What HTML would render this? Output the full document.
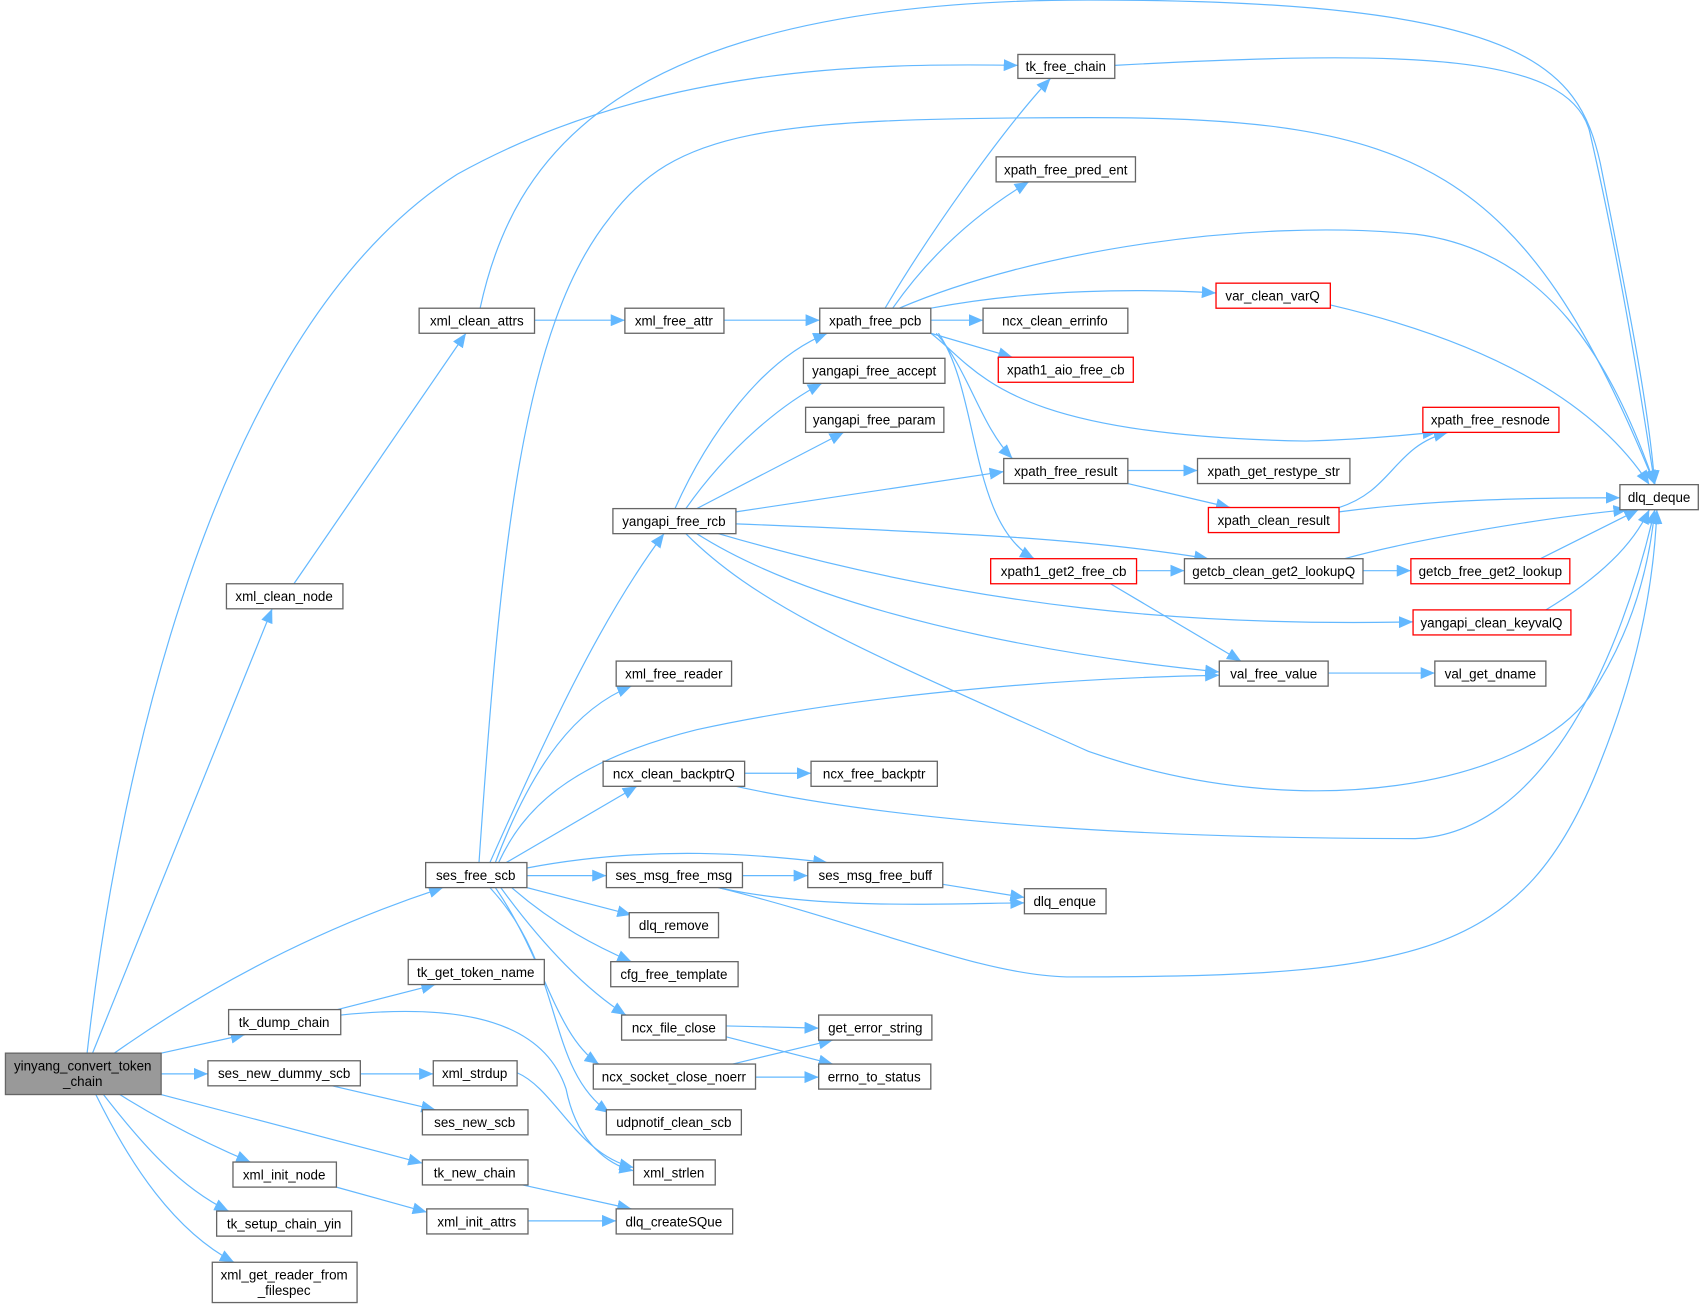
<!DOCTYPE html>
<html><head><meta charset="utf-8"><style>
html,body{margin:0;padding:0;background:#fff;}
svg{display:block;}
text{font-family:"Liberation Sans",Arial,sans-serif;font-size:12.3px;fill:#000;text-anchor:middle;}
.b{fill:#fff;stroke:#666;stroke-width:1.2;}
.r{fill:#fff;stroke:#f00;stroke-width:1.2;}
.g{fill:#999;stroke:#666;stroke-width:1.2;}
path.e{fill:none;stroke:#63b8ff;stroke-width:1.1;marker-end:url(#a);}
</style></head><body>
<svg width="1707" height="1308" viewBox="0 0 1568 1201" preserveAspectRatio="none">
<defs><marker id="a" markerUnits="userSpaceOnUse" markerWidth="14" markerHeight="11" refX="13" refY="5.5" orient="auto"><path d="M0,0 L13,5.5 L0,11 z" fill="#63b8ff"/></marker></defs>
<g>
<path class="e" d="M80,967 C110,700 200,300 420,160 C600,60 800,58 935,60"/>
<path class="e" d="M85,967 L250,559"/>
<path class="e" d="M105,967 C200,900 300,850 407,815"/>
<path class="e" d="M148,967 L225,950"/>
<path class="e" d="M148,986 L191,986"/>
<path class="e" d="M148,1005 L388,1068"/>
<path class="e" d="M110,1005 C150,1030 190,1050 230,1067"/>
<path class="e" d="M95,1005 C130,1050 165,1090 210,1112"/>
<path class="e" d="M88,1005 C120,1070 160,1130 215,1159"/>
<path class="e" d="M270,536 L428,306"/>
<path class="e" d="M491,294 L574,294"/>
<path class="e" d="M441,283 C470,150 560,0 1000,0 C1400,0 1450,60 1470,150 C1500,300 1515,380 1520,445"/>
<path class="e" d="M665,294 L753,294"/>
<path class="e" d="M440,792 C460,500 480,300 560,200 C620,120 700,108 1000,108 C1300,108 1400,150 1520,445"/>
<path class="e" d="M1024,60 C1300,45 1440,50 1460,120 C1490,250 1510,380 1520,445"/>
<path class="e" d="M813,283 C850,220 920,120 965,72"/>
<path class="e" d="M820,283 C850,240 890,200 945,167"/>
<path class="e" d="M826,283 C950,230 1150,200 1300,215 C1420,230 1480,330 1520,445"/>
<path class="e" d="M855,283 C950,265 1050,265 1117,269"/>
<path class="e" d="M855,294 L903,294"/>
<path class="e" d="M855,306 L930,328"/>
<path class="e" d="M855,306 C900,340 920,400 1200,405 C1270,403 1300,398 1320,397"/>
<path class="e" d="M860,306 C890,340 900,390 930,421"/>
<path class="e" d="M862,306 C900,360 890,480 950,513"/>
<path class="e" d="M1222,280 C1350,310 1460,360 1515,445"/>
<path class="e" d="M620,467 C650,400 700,330 760,306"/>
<path class="e" d="M630,467 C670,410 720,370 755,352"/>
<path class="e" d="M640,467 L775,397"/>
<path class="e" d="M676,470 L922,433"/>
<path class="e" d="M676,481 C900,490 1000,495 1110,513"/>
<path class="e" d="M660,490 C900,560 1100,575 1298,571"/>
<path class="e" d="M640,490 C750,560 950,600 1120,617"/>
<path class="e" d="M630,490 C700,560 800,600 1000,690 C1200,760 1400,720 1460,640 C1500,580 1515,520 1520,468"/>
<path class="e" d="M1036,432 L1100,432"/>
<path class="e" d="M1036,444 L1130,466"/>
<path class="e" d="M1230,466 C1280,450 1280,410 1330,397"/>
<path class="e" d="M1230,470 C1320,458 1420,457 1488,457"/>
<path class="e" d="M1044,524 L1088,524"/>
<path class="e" d="M1020,536 L1140,607"/>
<path class="e" d="M1252,524 L1296,524"/>
<path class="e" d="M1235,513 C1300,495 1420,475 1495,468"/>
<path class="e" d="M1415,513 L1505,468"/>
<path class="e" d="M1420,560 C1470,530 1500,500 1515,468"/>
<path class="e" d="M1220,618 L1318,618"/>
<path class="e" d="M450,792 C500,680 550,570 610,490"/>
<path class="e" d="M455,792 C490,700 530,650 580,630"/>
<path class="e" d="M458,792 C480,745 520,700 640,670 C800,635 1000,622 1120,620"/>
<path class="e" d="M465,792 L585,722"/>
<path class="e" d="M484,797 C600,775 700,785 760,792"/>
<path class="e" d="M484,804 L557,804"/>
<path class="e" d="M484,815 L580,840"/>
<path class="e" d="M470,815 C510,850 550,870 580,883"/>
<path class="e" d="M460,815 C500,870 540,910 575,932"/>
<path class="e" d="M455,815 C500,880 510,950 550,977"/>
<path class="e" d="M450,815 C520,890 500,980 560,1022"/>
<path class="e" d="M313,932 C430,920 500,940 520,1000 C530,1050 560,1070 582,1075"/>
<path class="e" d="M475,985 C510,1000 530,1060 582,1072"/>
<path class="e" d="M684,710 L745,710"/>
<path class="e" d="M676,722 C850,760 1100,770 1300,770 C1420,765 1490,600 1520,468"/>
<path class="e" d="M682,804 L742,804"/>
<path class="e" d="M660,815 C750,835 860,830 941,829"/>
<path class="e" d="M660,815 C800,850 900,895 980,897 C1300,897 1400,880 1470,700 C1510,600 1520,520 1522,468"/>
<path class="e" d="M866,812 L941,824"/>
<path class="e" d="M310,927 L400,904"/>
<path class="e" d="M667,942 L752,944"/>
<path class="e" d="M667,952 L765,977"/>
<path class="e" d="M673,977 L765,955"/>
<path class="e" d="M694,989 L752,989"/>
<path class="e" d="M331,986 L398,986"/>
<path class="e" d="M305,997 L400,1019"/>
<path class="e" d="M480,1088 L580,1110"/>
<path class="e" d="M309,1090 L392,1113"/>
<path class="e" d="M485,1121 L566,1121"/>
</g>
<g>
<rect class="g" x="5" y="967" width="143" height="38"/><text x="76" y="983">yinyang_convert_token</text><text x="76" y="997">_chain</text>
<rect class="b" x="935" y="50" width="89" height="22"/><text x="979" y="65">tk_free_chain</text>
<rect class="b" x="385" y="283" width="106" height="23"/><text x="438" y="299">xml_clean_attrs</text>
<rect class="b" x="574" y="283" width="91" height="23"/><text x="619" y="299">xml_free_attr</text>
<rect class="b" x="753" y="283" width="102" height="23"/><text x="804" y="299">xpath_free_pcb</text>
<rect class="b" x="915" y="144" width="128" height="23"/><text x="979" y="160">xpath_free_pred_ent</text>
<rect class="r" x="1117" y="260" width="105" height="23"/><text x="1169" y="276">var_clean_varQ</text>
<rect class="b" x="903" y="283" width="133" height="23"/><text x="969" y="299">ncx_clean_errinfo</text>
<rect class="r" x="917" y="328" width="124" height="23"/><text x="979" y="344">xpath1_aio_free_cb</text>
<rect class="b" x="738" y="329" width="130" height="23"/><text x="803" y="345">yangapi_free_accept</text>
<rect class="b" x="740" y="374" width="127" height="23"/><text x="803" y="390">yangapi_free_param</text>
<rect class="r" x="1307" y="374" width="125" height="23"/><text x="1369" y="390">xpath_free_resnode</text>
<rect class="b" x="922" y="421" width="114" height="23"/><text x="979" y="437">xpath_free_result</text>
<rect class="b" x="1100" y="421" width="140" height="23"/><text x="1170" y="437">xpath_get_restype_str</text>
<rect class="b" x="1488" y="445" width="72" height="23"/><text x="1524" y="461">dlq_deque</text>
<rect class="b" x="208" y="536" width="107" height="23"/><text x="261" y="552">xml_clean_node</text>
<rect class="b" x="563" y="467" width="113" height="23"/><text x="619" y="483">yangapi_free_rcb</text>
<rect class="r" x="1110" y="466" width="120" height="23"/><text x="1170" y="482">xpath_clean_result</text>
<rect class="r" x="910" y="513" width="134" height="23"/><text x="977" y="529">xpath1_get2_free_cb</text>
<rect class="b" x="1088" y="513" width="164" height="23"/><text x="1170" y="529">getcb_clean_get2_lookupQ</text>
<rect class="r" x="1296" y="513" width="146" height="23"/><text x="1369" y="529">getcb_free_get2_lookup</text>
<rect class="r" x="1298" y="560" width="145" height="23"/><text x="1370" y="576">yangapi_clean_keyvalQ</text>
<rect class="b" x="566" y="607" width="106" height="23"/><text x="619" y="623">xml_free_reader</text>
<rect class="b" x="1120" y="607" width="100" height="23"/><text x="1170" y="623">val_free_value</text>
<rect class="b" x="1318" y="607" width="102" height="23"/><text x="1369" y="623">val_get_dname</text>
<rect class="b" x="554" y="699" width="130" height="23"/><text x="619" y="715">ncx_clean_backptrQ</text>
<rect class="b" x="745" y="699" width="116" height="23"/><text x="803" y="715">ncx_free_backptr</text>
<rect class="b" x="391" y="792" width="93" height="23"/><text x="437" y="808">ses_free_scb</text>
<rect class="b" x="557" y="792" width="125" height="23"/><text x="619" y="808">ses_msg_free_msg</text>
<rect class="b" x="742" y="792" width="124" height="23"/><text x="804" y="808">ses_msg_free_buff</text>
<rect class="b" x="941" y="816" width="75" height="23"/><text x="978" y="832">dlq_enque</text>
<rect class="b" x="578" y="838" width="82" height="23"/><text x="619" y="854">dlq_remove</text>
<rect class="b" x="561" y="883" width="117" height="23"/><text x="619" y="899">cfg_free_template</text>
<rect class="b" x="375" y="881" width="125" height="23"/><text x="437" y="897">tk_get_token_name</text>
<rect class="b" x="210" y="927" width="103" height="23"/><text x="261" y="943">tk_dump_chain</text>
<rect class="b" x="571" y="932" width="96" height="23"/><text x="619" y="948">ncx_file_close</text>
<rect class="b" x="752" y="932" width="104" height="23"/><text x="804" y="948">get_error_string</text>
<rect class="b" x="191" y="974" width="140" height="23"/><text x="261" y="990">ses_new_dummy_scb</text>
<rect class="b" x="398" y="974" width="77" height="23"/><text x="436" y="990">xml_strdup</text>
<rect class="b" x="545" y="977" width="149" height="23"/><text x="619" y="993">ncx_socket_close_noerr</text>
<rect class="b" x="752" y="977" width="103" height="23"/><text x="803" y="993">errno_to_status</text>
<rect class="b" x="388" y="1019" width="97" height="23"/><text x="436" y="1035">ses_new_scb</text>
<rect class="b" x="557" y="1019" width="124" height="23"/><text x="619" y="1035">udpnotif_clean_scb</text>
<rect class="b" x="388" y="1065" width="97" height="23"/><text x="436" y="1081">tk_new_chain</text>
<rect class="b" x="582" y="1065" width="75" height="23"/><text x="619" y="1081">xml_strlen</text>
<rect class="b" x="214" y="1067" width="95" height="23"/><text x="261" y="1083">xml_init_node</text>
<rect class="b" x="392" y="1110" width="93" height="23"/><text x="438" y="1126">xml_init_attrs</text>
<rect class="b" x="566" y="1110" width="107" height="23"/><text x="619" y="1126">dlq_createSQue</text>
<rect class="b" x="199" y="1112" width="124" height="23"/><text x="261" y="1128">tk_setup_chain_yin</text>
<rect class="b" x="195" y="1159" width="133" height="37"/><text x="261" y="1175">xml_get_reader_from</text><text x="261" y="1189">_filespec</text>
</g>
</svg>
</body></html>
